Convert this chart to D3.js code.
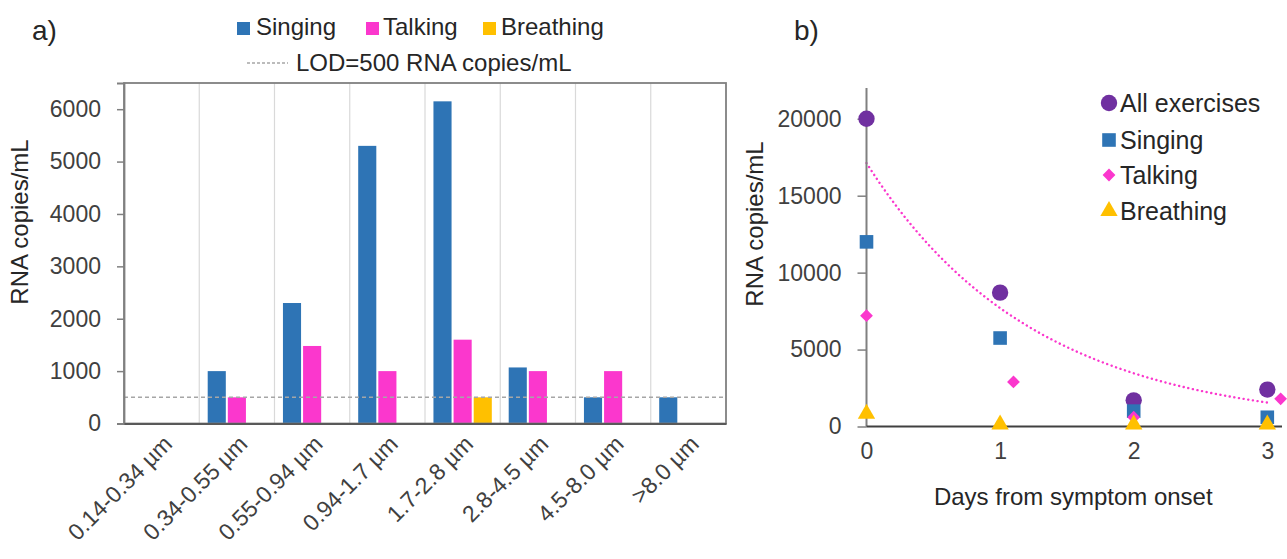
<!DOCTYPE html>
<html>

<head>
  <meta charset="utf-8">
  <title>RNA copies by particle size and day</title>
  <script src="https://cdnjs.cloudflare.com/ajax/libs/d3/7.8.5/d3.min.js"></script>
  <style>
    html,
    body {
      margin: 0;
      padding: 0;
      background: #fff;
    }

    svg text {
      font-family: "Liberation Sans", Arial, sans-serif;
    }
  </style>
</head>

<body>

  <svg id="chart" width="1287" height="559"></svg>

  <script>

    // panel a: particle size bins
    const sizeBins = ['0.14-0.34 µm', '0.34-0.55 µm', '0.55-0.94 µm', '0.94-1.7 µm', '1.7-2.8 µm', '2.8-4.5 µm', '4.5-8.0 µm', '>8.0 µm']
    const barSeries = ['Singing', 'Talking', 'Breathing']
    const singingBySize = [0, 1000, 2300, 5300, 6150, 1070, 500, 500]
    const talkingBySize = [0, 500, 1480, 1000, 1600, 1000, 1000, 0]
    const breathingBySize = [0, 0, 0, 0, 500, 0, 0, 0]
    const lodValue = 500
    const aTicks = [0, 1000, 2000, 3000, 4000, 5000, 6000]

    // panel b: days from symptom onset
    const dayTicks = [0, 1, 2, 3]
    const allDays = [0, 1, 2, 3]
    const allValues = [20000, 8700, 1700, 2400]
    const singDays = [0, 1, 2, 3]
    const singValues = [12000, 5750, 1000, 600]
    const talkDays = [0, 1.1, 2, 3.1]
    const talkValues = [7200, 2900, 600, 1800]
    const breathDays = [0, 1, 2, 3]
    const breathValues = [700, 0, 0, 0]
    const bTicks = [0, 5000, 10000, 15000, 20000]

    const colors = { Singing: '#2e74b5', Talking: '#fb37cd', Breathing: '#ffc000', All: '#7030a0' }

    const svg = d3.select('#chart')

    // ---------- panel a ----------
    const aLeft = 124, aRight = 726, aTop = 83, aBottom = 423.5

    const x0 = d3.scaleBand().domain(sizeBins).range([aLeft, aRight]).padding(0)
    const x1 = d3.scaleBand().domain(barSeries).range([0, x0.bandwidth()]).paddingInner(0.1).paddingOuter(0.42)
    const yA = d3.scaleLinear().domain([0, 6500]).range([aBottom, aTop])

    const seriesValues = { Singing: singingBySize, Talking: talkingBySize, Breathing: breathingBySize }

    const ga = svg.append('g')

    // vertical gridlines at bin edges
    ga.selectAll('.vgrid')
      .data(sizeBins.slice(1))
      .join('line')
      .attr('x1', d => x0(d)).attr('x2', d => x0(d))
      .attr('y1', aTop).attr('y2', aBottom)
      .attr('stroke', '#d9d9d9').attr('stroke-width', 1.2)

    // bars
    barSeries.forEach(s => {
      ga.selectAll('.bar-' + s)
        .data(sizeBins.map((c, i) => ({ c, v: seriesValues[s][i] })).filter(d => d.v > 0))
        .join('rect')
        .attr('x', d => x0(d.c) + x1(s))
        .attr('width', x1.bandwidth())
        .attr('y', d => yA(d.v))
        .attr('height', d => yA(0) - yA(d.v))
        .attr('fill', colors[s])
    })

    // LOD line
    ga.append('line')
      .attr('x1', aLeft).attr('x2', aRight)
      .attr('y1', yA(lodValue)).attr('y2', yA(lodValue))
      .attr('stroke', '#a6a6a6').attr('stroke-width', 1.5)
      .attr('stroke-dasharray', '4,3')

    // frame
    ga.append('rect')
      .attr('x', aLeft).attr('y', aTop)
      .attr('width', aRight - aLeft).attr('height', aBottom - aTop)
      .attr('fill', 'none').attr('stroke', '#808080').attr('stroke-width', 1.8)

    // y axis
    const yAxisA = ga.append('g')
      .attr('transform', `translate(${aLeft},0)`)
      .call(d3.axisLeft(yA).tickValues(aTicks).tickSize(7).tickPadding(16).tickFormat(d3.format('d')))
    yAxisA.select('.domain').attr('stroke', '#808080').attr('stroke-width', 1.8)
    yAxisA.selectAll('.tick line').attr('stroke', '#808080').attr('stroke-width', 1.5)
    yAxisA.selectAll('text').attr('font-size', 23).attr('fill', '#404040')
      .attr('font-family', '"Liberation Sans", Arial, sans-serif')

    // x axis
    const xAxisA = ga.append('g')
      .attr('transform', `translate(0,${aBottom})`)
      .call(d3.axisBottom(x0).tickSize(0).tickPadding(0))
    xAxisA.select('.domain').attr('stroke', '#595959').attr('stroke-width', 2)
    xAxisA.selectAll('text')
      .attr('font-size', 23).attr('fill', '#404040')
      .attr('font-family', '"Liberation Sans", Arial, sans-serif')
      .attr('text-anchor', 'end')
      .attr('dy', 0)
      .attr('y', 0)
      .attr('transform', 'translate(12,22) rotate(-45)')

    ga.append('text')
      .attr('transform', 'translate(28,222) rotate(-90)')
      .attr('text-anchor', 'middle')
      .attr('font-size', 24).attr('fill', '#262626')
      .text('RNA copies/mL')

    ga.append('text').attr('x', 32).attr('y', 40)
      .attr('font-size', 28).attr('fill', '#262626').text('a)')

    // legend a
    const legA = ga.append('g')
    const legItems = [
      { name: 'Singing', sx: 237, tx: 256 },
      { name: 'Talking', sx: 366, tx: 383 },
      { name: 'Breathing', sx: 483, tx: 501 }
    ]
    legItems.forEach(d => {
      legA.append('rect').attr('x', d.sx).attr('y', 22).attr('width', 13).attr('height', 13).attr('fill', colors[d.name])
      legA.append('text').attr('x', d.tx).attr('y', 35).attr('font-size', 24).attr('fill', '#262626').text(d.name)
    })
    legA.append('line').attr('x1', 247).attr('x2', 288).attr('y1', 63).attr('y2', 63)
      .attr('stroke', '#a6a6a6').attr('stroke-width', 1.5).attr('stroke-dasharray', '3,2')
    legA.append('text').attr('x', 296).attr('y', 71).attr('font-size', 24).attr('fill', '#262626')
      .text('LOD=' + lodValue + ' RNA copies/mL')

    // ---------- panel b ----------
    const bLeft = 866.5, bRight = 1282, bTop = 88, bBottom = 426.5
    const xB = d3.scaleLinear().domain([0, 3.11]).range([bLeft, bRight])
    const yB = d3.scaleLinear().domain([0, 22000]).range([bBottom, bTop])

    const gb = svg.append('g')

    // exponential trendline fitted to "All exercises"
    const lnY = allValues.map(Math.log)
    const mx = d3.mean(allDays), my = d3.mean(lnY)
    const slope = d3.sum(allDays, (d, i) => (d - mx) * (lnY[i] - my)) / d3.sum(allDays, d => (d - mx) ** 2)
    const coef = Math.exp(my - slope * mx)
    const fitX = d3.range(0, 3.001, 0.05)
    const trend = d3.line().x(d => xB(d)).y(d => yB(coef * Math.exp(slope * d)))
    gb.append('path')
      .attr('d', trend(fitX))
      .attr('fill', 'none')
      .attr('stroke', colors.Talking)
      .attr('stroke-width', 2.4)
      .attr('stroke-linecap', 'round')
      .attr('stroke-dasharray', '0.1,4.6')

    // axes
    const yAxisB = gb.append('g')
      .attr('transform', `translate(${bLeft},0)`)
      .call(d3.axisLeft(yB).tickValues(bTicks).tickSize(9).tickPadding(16).tickFormat(d3.format('d')))
    yAxisB.select('.domain').attr('stroke', '#808080').attr('stroke-width', 2)
      .attr('d', `M0,${bTop}V${bBottom}`)
    yAxisB.selectAll('.tick line').attr('stroke', '#808080').attr('stroke-width', 1.5)
    yAxisB.selectAll('text').attr('font-size', 23).attr('fill', '#404040')
      .attr('font-family', '"Liberation Sans", Arial, sans-serif')

    const xAxisB = gb.append('g')
      .attr('transform', `translate(0,${bBottom})`)
      .call(d3.axisBottom(xB).tickValues(dayTicks).tickSize(0).tickPadding(16).tickFormat(d3.format('d')))
    xAxisB.select('.domain').attr('stroke', '#404040').attr('stroke-width', 2)
      .attr('d', `M${bLeft},0H${bRight}`)
    xAxisB.selectAll('text').attr('font-size', 23).attr('fill', '#404040')
      .attr('font-family', '"Liberation Sans", Arial, sans-serif')

    gb.append('text')
      .attr('x', (bLeft + bRight) / 2 - 1).attr('y', 505)
      .attr('text-anchor', 'middle')
      .attr('font-size', 24).attr('fill', '#262626')
      .text('Days from symptom onset')

    gb.append('text')
      .attr('transform', 'translate(763,224) rotate(-90)')
      .attr('text-anchor', 'middle')
      .attr('font-size', 24).attr('fill', '#262626')
      .text('RNA copies/mL')

    gb.append('text').attr('x', 794).attr('y', 40)
      .attr('font-size', 28).attr('fill', '#262626').text('b)')

    // markers (talking diamond = square turned 45 degrees)
    const sym = {
      All: d3.symbol().type(d3.symbolCircle).size(210),
      Singing: d3.symbol().type(d3.symbolSquare).size(185),
      Talking: d3.symbol().type(d3.symbolSquare).size(82),
      Breathing: d3.symbol().type(d3.symbolTriangle).size(130)
    }
    const rot = { All: 0, Singing: 0, Talking: 45, Breathing: 0 }
    const pointSets = [
      { key: 'Breathing', xs: breathDays, ys: breathValues },
      { key: 'Talking', xs: talkDays, ys: talkValues },
      { key: 'Singing', xs: singDays, ys: singValues },
      { key: 'All', xs: allDays, ys: allValues }
    ]
    // draw order: All first so smaller markers sit on top at day 2
    const drawOrder = ['All', 'Singing', 'Talking', 'Breathing']
    drawOrder.forEach(k => {
      const ps = pointSets.find(p => p.key === k)
      gb.selectAll('.pt-' + k)
        .data(ps.xs.map((x, i) => [x, ps.ys[i]]))
        .join('path')
        .attr('d', sym[k])
        .attr('transform', d => `translate(${xB(d[0])},${yB(d[1]) - (k === 'Breathing' ? 2 : 0)}) rotate(${rot[k]})`)
        .attr('fill', colors[k])
    })

    // legend b
    const legB = [
      { key: 'All', label: 'All exercises', y: 103 },
      { key: 'Singing', label: 'Singing', y: 140 },
      { key: 'Talking', label: 'Talking', y: 175 },
      { key: 'Breathing', label: 'Breathing', y: 211 }
    ]
    legB.forEach(d => {
      gb.append('path').attr('d', sym[d.key])
        .attr('transform', `translate(1109,${d.y}) rotate(${rot[d.key]})`)
        .attr('fill', colors[d.key])
      gb.append('text').attr('x', 1120).attr('y', d.y + 9).attr('font-size', 25).attr('fill', '#262626').text(d.label)
    })

  </script>

</body>

</html>
